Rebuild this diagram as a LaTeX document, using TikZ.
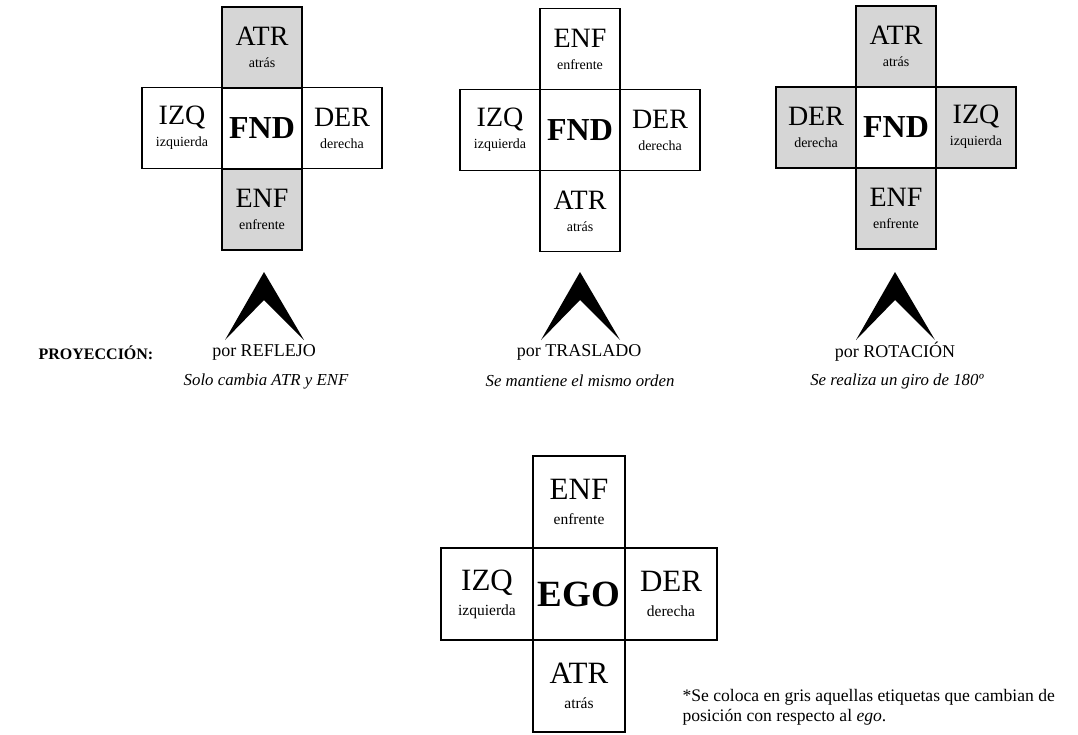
\documentclass[tikz,border=0pt]{standalone}
\usepackage{fontspec}
\setmainfont{Liberation Serif}
\usetikzlibrary{positioning}
\definecolor{CeldaGris}{RGB}{214,214,214}
\newcommand{\etiqueta}[2]{{\fontsize{28}{22}\selectfont #1}\\{\fontsize{14}{22}\selectfont #2}}
\newcommand{\etiquetaego}[2]{{\fontsize{31}{25}\selectfont #1}\\{\fontsize{15.5}{25}\selectfont #2}}
\newcommand{\centro}[1]{{\fontsize{32}{32}\selectfont\bfseries #1}}
\tikzset{
  celda/.style={draw,line width=1.2pt,minimum width=80pt,minimum height=81pt,
    inner sep=0pt,outer sep=0pt,align=center,font=\fontsize{14}{22}\selectfont},
  celdagris/.style={celda,fill=CeldaGris,line width=2pt},
  celdaego/.style={celda,minimum width=92pt,minimum height=92pt,font=\fontsize{15.5}{25}\selectfont},
  pie/.style={font=\fontsize{18}{18}\selectfont},
  lema/.style={font=\fontsize{16.8}{16.8}\selectfont\itshape}
}

\begin{document}
\begin{tikzpicture}[x=1pt,y=-1pt]
\useasboundingbox (0,0) rectangle (1078,734);

% proyeccion por reflejo
\node[celda,line width=2pt] (r0) at (262,128) {\centro{FND}};
\node[celda,left=0pt of r0] (r3) {\etiqueta{IZQ}{izquierda}};
\node[celda,right=0pt of r0] (r4) {\etiqueta{DER}{derecha}};
\node[celdagris,above=0pt of r0] (r1) {\etiqueta{ATR}{atrás}};
\node[celdagris,below=0pt of r0] (r2) {\etiqueta{ENF}{enfrente}};

% proyeccion por traslado
\node[celda] (t0) at (580,130) {\centro{FND}};
\node[celda,above=0pt of t0] (t1) {\etiqueta{ENF}{enfrente}};
\node[celda,below=0pt of t0] (t2) {\etiqueta{ATR}{atrás}};
\node[celda,left=0pt of t0] (t3) {\etiqueta{IZQ}{izquierda}};
\node[celda,right=0pt of t0] (t4) {\etiqueta{DER}{derecha}};

% proyeccion por rotacion
\node[celda,line width=2pt] (o0) at (896,127) {\centro{FND}};
\node[celdagris,above=0pt of o0] (o1) {\etiqueta{ATR}{atrás}};
\node[celdagris,below=0pt of o0] (o2) {\etiqueta{ENF}{enfrente}};
\node[celdagris,left=0pt of o0] (o3) {\etiqueta{DER}{derecha}};
\node[celdagris,right=0pt of o0] (o4) {\etiqueta{IZQ}{izquierda}};

% flechas
\foreach \x in {264,580,895}
  \fill (\x,272) -- (\x-39,340) -- (\x,300) -- (\x+40,340) -- cycle;

\node[font=\fontsize{16}{16}\selectfont\bfseries] (proy) at (96,353) {PROYECCIÓN:};
\node[pie] (p1) at (264,352) {por REFLEJO};
\node[pie] (p2) at (579,352) {por TRASLADO};
\node[pie] (p3) at (895,352) {por ROTACIÓN};
\node[lema] (l1) at (266,381) {Solo cambia ATR y ENF};
\node[lema] (l2) at (580,381) {Se mantiene el mismo orden};
\node[lema] (l3) at (897,381) {Se realiza un giro de 180º};

% ego
\node[celdaego] (e0) at (579,594) {{\fontsize{37}{37}\selectfont\bfseries EGO}};
\node[celdaego,above=0pt of e0] (e1) {\etiquetaego{ENF}{enfrente}};
\node[celdaego,below=0pt of e0] (e2) {\etiquetaego{ATR}{atrás}};
\node[celdaego,left=0pt of e0] (e3) {\etiquetaego{IZQ}{izquierda}};
\node[celdaego,right=0pt of e0] (e4) {\etiquetaego{DER}{derecha}};

\node[anchor=north west,align=left,font=\fontsize{17.6}{20}\selectfont] (nota) at (679,686)
  {*Se coloca en gris aquellas etiquetas que cambian de\\posición con respecto al \textit{ego}.};
\end{tikzpicture}
\end{document}
